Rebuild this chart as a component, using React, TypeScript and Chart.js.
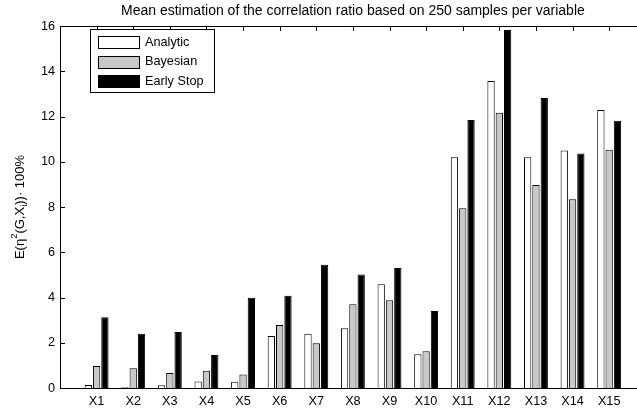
import { useEffect, useRef } from 'react';
import { Chart, registerables } from 'chart.js';

Chart.register(...registerables);

const categories = ['X1', 'X2', 'X3', 'X4', 'X5', 'X6', 'X7', 'X8', 'X9', 'X10', 'X11', 'X12', 'X13', 'X14', 'X15'];
const seriesNames = ['Analytic', 'Bayesian', 'Early Stop'];
const analytic = [0.13, 0.03, 0.12, 0.29, 0.28, 2.3, 2.4, 2.64, 4.59, 1.49, 10.2, 13.57, 10.2, 10.5, 12.29];
const bayesian = [0.97, 0.87, 0.66, 0.76, 0.6, 2.78, 1.98, 3.7, 3.88, 1.62, 7.95, 12.17, 8.97, 8.34, 10.53];
const earlyStop = [3.13, 2.4, 2.47, 1.46, 3.99, 4.08, 5.45, 5.02, 5.3, 3.4, 11.85, 15.82, 12.82, 10.36, 11.81];
const yTicks = [0, 2, 4, 6, 8, 10, 12, 14, 16];
const titleText = 'Mean estimation of the correlation ratio based on 250 samples per variable';
const yLabelParts = [
  { t: 'E(\u03B7', k: 'n' },
  { t: '2', k: 'sup' },
  { t: '(G,X', k: 'n' },
  { t: 'i', k: 'sub' },
  { t: '))\u00B7 100%', k: 'n' },
];

const FONT = 'Liberation Sans, Arial, Helvetica, sans-serif';
const colors = ['#ffffff', '#c8c8c8', '#000000'];
const seriesData = [analytic, bayesian, earlyStop];

const framePlugin = {
  id: 'matlabFrame',
  beforeDatasetsDraw(chart: any) {
    const { ctx, chartArea } = chart;
    const xs = chart.scales.x;
    const ys = chart.scales.y;
    ctx.save();
    ctx.strokeStyle = '#000';
    ctx.lineWidth = 1;
    ctx.beginPath();
    yTicks.forEach((v) => {
      const y = Math.round(ys.getPixelForValue(v)) + 0.5;
      ctx.moveTo(chartArea.left, y);
      ctx.lineTo(chartArea.left + 5, y);
    });
    categories.forEach((_, i) => {
      const x = Math.round(xs.getPixelForValue(i + 1)) + 0.5;
      ctx.moveTo(x, chartArea.top);
      ctx.lineTo(x, chartArea.top + 5);
      ctx.moveTo(x, chartArea.bottom);
      ctx.lineTo(x, chartArea.bottom - 5);
    });
    ctx.stroke();
    ctx.restore();
  },
  afterDatasetsDraw(chart: any) {
    const { ctx, chartArea, width } = chart;
    ctx.save();
    ctx.strokeStyle = '#000';
    ctx.lineWidth = 1;
    const l = Math.round(chartArea.left) + 0.5;
    const t = Math.round(chartArea.top) + 0.5;
    const b = Math.round(chartArea.bottom) + 0.5;
    ctx.beginPath();
    ctx.moveTo(l, t);
    ctx.lineTo(width, t);
    ctx.moveTo(l, t);
    ctx.lineTo(l, b);
    ctx.lineTo(width, b);
    ctx.stroke();
    ctx.restore();
  },
  afterDraw(chart: any) {
    const { ctx, chartArea } = chart;
    const xs = chart.scales.x;
    ctx.save();
    ctx.fillStyle = '#000';
    // title
    ctx.font = `14px ${FONT}`;
    ctx.textAlign = 'center';
    ctx.textBaseline = 'middle';
    const cx = (chartArea.left + xs.getPixelForValue(16)) / 2;
    ctx.fillText(titleText, cx, 11);

    // y label
    const cy = (chartArea.top + chartArea.bottom) / 2;
    const big = `13px ${FONT}`;
    const small = `9.5px ${FONT}`;
    let total = 0;
    yLabelParts.forEach((p) => {
      ctx.font = p.k === 'n' ? big : small;
      total += ctx.measureText(p.t).width;
    });
    ctx.translate(24, cy);
    ctx.rotate(-Math.PI / 2);
    ctx.textAlign = 'left';
    ctx.textBaseline = 'alphabetic';
    let x = -total / 2;
    yLabelParts.forEach((p) => {
      ctx.font = p.k === 'n' ? big : small;
      const dy = p.k === 'sup' ? -7 : p.k === 'sub' ? 3 : 0;
      ctx.fillText(p.t, x, dy);
      x += ctx.measureText(p.t).width;
    });
    ctx.restore();

    // legend
    ctx.save();
    const bx = 90.5, by = 29.5, bw = 124, bh = 63;
    ctx.fillStyle = '#fff';
    ctx.fillRect(bx, by, bw, bh);
    ctx.strokeStyle = '#000';
    ctx.lineWidth = 1;
    ctx.strokeRect(bx, by, bw, bh);
    ctx.font = `12.7px ${FONT}`;
    ctx.textBaseline = 'middle';
    ctx.textAlign = 'left';
    chart.data.datasets.forEach((ds: any, i: number) => {
      const yc = 42 + i * 19.5;
      ctx.fillStyle = ds.backgroundColor;
      ctx.fillRect(98.5, Math.round(yc - 6) + 0.5, 41, 12);
      ctx.strokeStyle = '#000';
      ctx.strokeRect(98.5, Math.round(yc - 6) + 0.5, 41, 12);
      ctx.fillStyle = '#000';
      ctx.fillText(ds.label, 145, yc);
    });
    ctx.restore();
  },
};

export default function App() {
  const ref = useRef<HTMLCanvasElement>(null);
  useEffect(() => {
    if (!ref.current) return;
    const chart = new Chart(ref.current, {
      type: 'bar',
      data: {
        datasets: seriesNames.map((name, si) => ({
          label: name,
          data: seriesData[si].map((v, i) => ({ x: i + 1, y: v })),
          backgroundColor: colors[si],
          borderColor: '#000',
          borderWidth: 1,
          categoryPercentage: 0.68,
          barPercentage: 0.88,
        })),
      },
      options: {
        responsive: false,
        animation: false,
        layout: { padding: { top: 26, left: 0, right: 0, bottom: 0 } },
        plugins: {
          legend: { display: false },
          title: { display: false },
          tooltip: { enabled: false },
        },
        scales: {
          x: {
            type: 'linear',
            min: 0,
            max: 15.76,
            offset: false,
            afterFit: (s: any) => { s.height = 24; },
            grid: { display: false, drawTicks: false },
            border: { display: false },
            ticks: {
              stepSize: 1,
              includeBounds: false,
              autoSkip: false,
              maxRotation: 0,
              padding: 6,
              color: '#000',
              font: { family: FONT, size: 12.7 },
              callback: (v: any) => (Number.isInteger(v) && v >= 1 && v <= categories.length ? categories[v - 1] : ''),
            },
          },
          y: {
            min: 0,
            max: 16,
            afterFit: (s: any) => { s.width = 60; },
            grid: { display: false, drawTicks: false },
            border: { display: false },
            ticks: {
              stepSize: 2,
              padding: 5,
              color: '#000',
              font: { family: FONT, size: 12.7 },
            },
          },
        },
      } as any,
      plugins: [framePlugin],
    });
    return () => chart.destroy();
  }, []);
  return (
    <div style={{ position: 'fixed', left: 0, top: 0, width: 637, height: 412, background: '#fff' }}>
      <canvas ref={ref} width={637} height={412} style={{ display: 'block' }} />
    </div>
  );
}
